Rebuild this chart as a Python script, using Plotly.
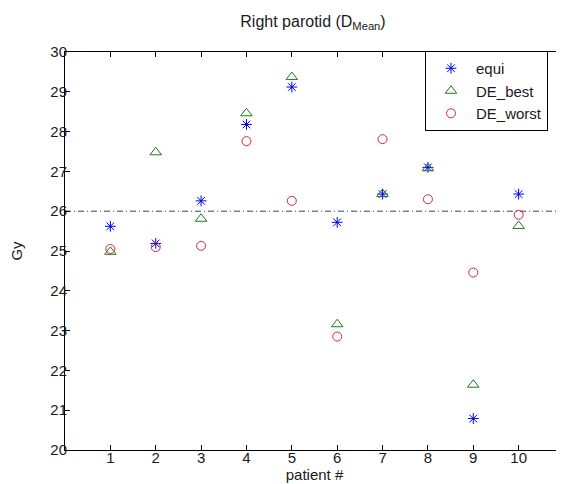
import plotly.graph_objects as go

patients = [1, 2, 3, 4, 5, 6, 7, 8, 9, 10]
equi = [25.62, 25.19, 26.26, 28.18, 29.12, 25.72, 26.43, 27.10, 20.79, 26.43]
de_best = [24.98, 27.48, 25.81, 28.46, 29.37, 23.16, 26.43, 27.08, 21.64, 25.63]
de_worst = [25.05, 25.10, 25.13, 27.76, 26.26, 22.85, 27.81, 26.30, 24.46, 25.91]
ref_level = 26
x_ticks = [1, 2, 3, 4, 5, 6, 7, 8, 9, 10]
y_ticks = [20, 21, 22, 23, 24, 25, 26, 27, 28, 29, 30]

FONT = "Liberation Sans, Arial, sans-serif"
TXT = "#1a1a1a"

fig = go.Figure()
fig.add_trace(go.Scatter(x=patients, y=equi, mode="markers", name="equi",
                         marker=dict(symbol="asterisk-open", size=9, color="#0000ee",
                                     line=dict(width=1, color="#0000ee"))))
fig.add_trace(go.Scatter(x=patients, y=de_best, mode="markers", name="DE_best",
                         marker=dict(symbol="triangle-up-open", size=10, color="#1a7a1a",
                                     line=dict(width=1, color="#1a7a1a"))))
fig.add_trace(go.Scatter(x=patients, y=de_worst, mode="markers", name="DE_worst",
                         marker=dict(symbol="circle-open", size=9, color="#d02848",
                                     line=dict(width=1, color="#d02848"))))

fig.add_shape(type="line", xref="paper", x0=0, x1=1, yref="y", y0=ref_level, y1=ref_level,
              line=dict(color="#3a4260", width=1, dash="6px,3px,1px,3px"), layer="below")

axis_common = dict(showgrid=False, zeroline=False, showline=True, linecolor="black",
                   linewidth=1, mirror="ticks", ticks="inside", ticklen=5,
                   tickcolor="black", tickfont=dict(family=FONT, size=15, color=TXT))

fig.update_layout(
    width=564, height=484,
    margin=dict(l=57, r=8, t=44, b=42),
    paper_bgcolor="white", plot_bgcolor="white",
    title=dict(text="Right parotid (D<sub>Mean</sub>)", xref="container", x=305 / 564,
               xanchor="center", yref="container", y=0.973, yanchor="middle",
               font=dict(family=FONT, size=16, color=TXT)),
    xaxis=dict(range=[0, 11], tickvals=x_ticks, ticklabelstandoff=-6,
               title=dict(text="patient #", font=dict(family=FONT, size=15, color=TXT), standoff=2),
               **axis_common),
    yaxis=dict(range=[20, 30], tickvals=y_ticks, ticklabelstandoff=-6,
               title=dict(text="Gy", font=dict(family=FONT, size=15, color=TXT), standoff=24),
               **axis_common),
    legend=dict(x=(417 - 57) / 499, y=1 - (43 - 44) / 398, xanchor="left", yanchor="top",
                bgcolor="white", bordercolor="black", borderwidth=1,
                font=dict(family=FONT, size=15, color=TXT),
                itemwidth=40, tracegroupgap=0),
    showlegend=True,
)

fig.write_html("out.html")
